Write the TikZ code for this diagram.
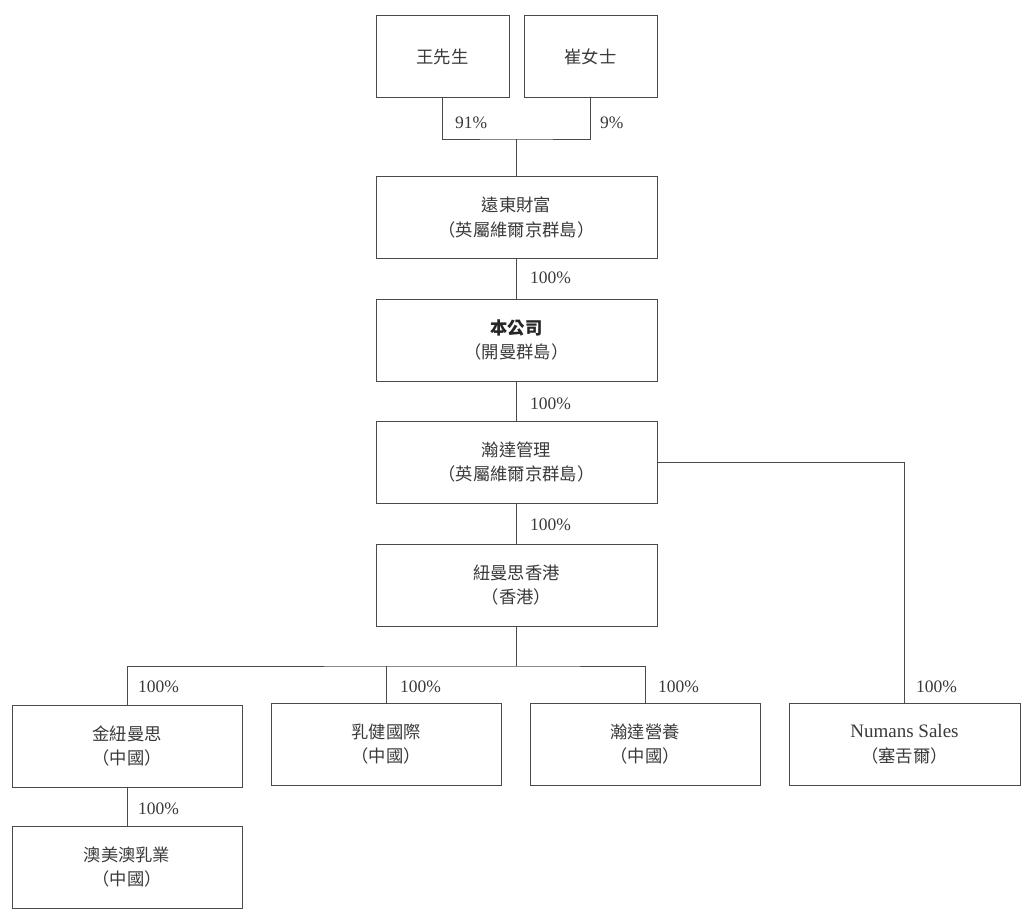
\documentclass[tikz,border=0pt]{standalone}
\usepackage{fontspec}
\setmainfont{Liberation Serif}
\newfontfamily\cjk{Noto Sans CJK TC}
\definecolor{linec}{HTML}{4A4A4A}
\definecolor{txt}{HTML}{3A3A3A}
\begin{document}
\begin{tikzpicture}[x=1pt,y=-1pt,
  box/.style={draw=linec, line width=1pt, minimum width=281pt, minimum height=82pt,
    inner sep=0pt, align=center, text=txt, font=\fontsize{17.3}{24.5}\cjk},
  smallbox/.style={box, minimum width=133pt},
  subbox/.style={box, minimum width=230pt},
  conn/.style={draw=linec, line width=1pt},
  pct/.style={anchor=west, inner sep=0pt, text=txt, font=\fontsize{17.5}{20}\selectfont}]
\useasboundingbox (0,0) rectangle (1027,915);
\fill[white] (0,0) rectangle (1027,915);
% nodes
\node[smallbox] (wang) at (442.5,57) {王先生};
\node[smallbox] (cui) at (590.5,57) {崔女士};
\node[box] (yd) at (516.5,217.5) {遠東財富\\（英屬維爾京群島）};
\node[box] (co) at (516.5,340) {{\bfseries\color{black!85}本公司}\\（開曼群島）};
\node[box] (hd) at (516.5,462) {瀚達管理\\（英屬維爾京群島）};
\node[box] (nm) at (516.5,585) {紐曼思香港\\（香港）};
\node[subbox] (jin) at (127,746) {金紐曼思\\（中國）};
\node[subbox] (ru) at (386,744) {乳健國際\\（中國）};
\node[subbox] (yy) at (645,744) {瀚達營養\\（中國）};
\node[subbox, minimum width=231pt] (nu) at (904.5,744) {{\rmfamily\fontsize{19}{24}\selectfont Numans Sales}\\（塞舌爾）};
\node[subbox] (ao) at (127,867) {澳美澳乳業\\（中國）};
% junctions
\coordinate (j1) at (516.5,139);
\coordinate (j2) at (516.5,666);
% connectors
\draw[conn] (wang.south) |- (j1) -| (cui.south);
\draw[conn] (j1) -- (yd.north);
\draw[conn] (yd.south) -- (co.north);
\draw[conn] (co.south) -- (hd.north);
\draw[conn] (hd.south) -- (nm.north);
\draw[conn] (hd.east) -| (nu.north);
\draw[conn] (nm.south) -- (j2);
\draw[conn] (jin.north) |- (j2) -| (yy.north);
\draw[conn] (ru.north) -- (ru.north |- j2);
\draw[conn] (jin.south) -- (ao.north);
% labels
\node[pct] (p91) at (455,123) {91\%};
\node[pct] (p9) at (600,123) {9\%};
\node[pct] (p1) at (530,278) {100\%};
\node[pct] (p2) at (530,404) {100\%};
\node[pct] (p3) at (530,525) {100\%};
\node[pct] (p4) at (138,687) {100\%};
\node[pct] (p5) at (400,687) {100\%};
\node[pct] (p6) at (658,687) {100\%};
\node[pct] (p7) at (916,687) {100\%};
\node[pct] (p8) at (138,809) {100\%};
\end{tikzpicture}
\end{document}
